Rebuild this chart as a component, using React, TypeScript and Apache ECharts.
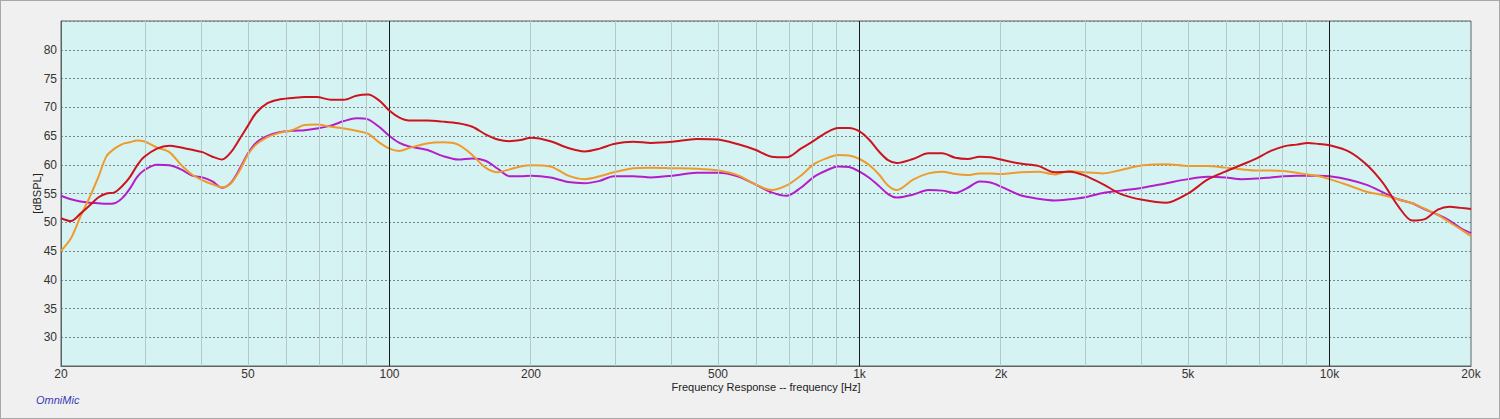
import React, { useEffect, useRef } from "react";
import * as echarts from "echarts";

const freqs = [
  20, 21, 22, 23, 24, 25, 26, 27, 28, 29, 30, 32, 34, 36, 38, 40, 42, 44, 46, 48,
  50, 52, 55, 58, 62, 66, 70, 75, 80, 85, 90, 95, 100, 105, 110, 120, 130, 140, 150, 160,
  170, 180, 190, 200, 220, 240, 260, 280, 300, 330, 360, 400, 450, 500, 550, 600, 650, 700, 750, 800,
  850, 900, 950, 1000, 1050, 1100, 1150, 1200, 1300, 1400, 1500, 1600, 1700, 1800, 1900, 2000, 2200, 2400, 2600, 2800,
  3000, 3300, 3600, 4000, 4500, 5000, 5500, 6000, 6500, 7000, 7500, 8000, 8500, 9000, 9500, 10000, 11000, 12000, 13000, 14000,
  15000, 16000, 17000, 18000, 19000, 20000,
];

const redValues = [
  50.7, 50.2, 51.5, 52.9, 54.3, 55.0, 55.2, 56.3, 57.8, 59.8, 61.3, 62.8, 63.3, 63.0, 62.6, 62.2, 61.4, 60.9, 62.2, 64.5,
  66.8, 69.0, 70.7, 71.3, 71.6, 71.8, 71.8, 71.3, 71.3, 72.0, 72.2, 71.2, 69.4, 68.2, 67.7, 67.7, 67.5, 67.2, 66.6, 65.3,
  64.4, 64.1, 64.3, 64.7, 64.1, 62.9, 62.3, 62.8, 63.6, 64.0, 63.8, 64.0, 64.5, 64.4, 63.6, 62.6, 61.4, 61.3, 62.8, 64.2,
  65.6, 66.4, 66.4, 65.8, 64.3, 62.3, 60.8, 60.3, 61.0, 62.0, 62.0, 61.2, 61.0, 61.4, 61.3, 60.9, 60.2, 59.8, 58.7, 58.8,
  58.2, 56.6, 54.9, 53.9, 53.4, 55.0, 57.4, 58.8, 60.0, 61.1, 62.4, 63.2, 63.5, 63.8, 63.6, 63.4, 62.3, 60.0, 56.8, 52.8,
  50.3, 50.6, 52.2, 52.7, 52.5, 52.3,
];

const purpleValues = [
  54.6, 54.0, 53.6, 53.4, 53.3, 53.2, 53.3, 54.2, 55.8, 57.8, 59.0, 60.0, 59.9, 59.2, 58.1, 57.8, 57.1, 56.0, 56.9, 59.3,
  62.0, 63.8, 65.0, 65.6, 65.9, 66.0, 66.3, 66.8, 67.6, 68.1, 67.9, 66.6, 65.0, 63.8, 63.2, 62.6, 61.5, 60.9, 61.1, 60.7,
  59.3, 58.0, 58.0, 58.1, 57.8, 57.0, 56.8, 57.2, 58.0, 58.0, 57.8, 58.1, 58.6, 58.6, 58.0, 56.6, 55.2, 54.6, 56.0, 57.9,
  59.0, 59.7, 59.6, 58.8, 57.7, 56.3, 54.9, 54.3, 54.8, 55.6, 55.5, 55.1, 56.0, 57.1, 56.9, 56.2, 54.7, 54.1, 53.8, 54.0,
  54.3, 55.1, 55.5, 56.0, 56.8, 57.5, 57.9, 57.8, 57.5, 57.6, 57.8, 58.0, 58.1, 58.1, 58.1, 58.0, 57.4, 56.5, 55.2, 54.0,
  53.3, 52.2, 51.3, 50.3, 49.0, 48.1,
];

const orangeValues = [
  45.0, 47.2, 51.0, 54.3, 57.8, 61.5, 62.8, 63.6, 63.9, 64.2, 64.1, 63.0, 62.2, 60.0, 58.3, 57.3, 56.6, 56.1, 56.8, 59.0,
  61.8, 63.5, 64.8, 65.5, 66.0, 66.9, 67.0, 66.6, 66.3, 65.9, 65.4, 63.9, 62.8, 62.4, 62.9, 63.7, 63.9, 63.5, 61.7, 59.5,
  58.7, 59.2, 59.7, 59.9, 59.7, 58.1, 57.5, 58.0, 58.7, 59.4, 59.5, 59.4, 59.3, 59.0, 58.2, 56.6, 55.6, 56.4, 58.1, 60.1,
  61.1, 61.7, 61.6, 61.0, 59.9, 58.3, 56.4, 55.6, 57.4, 58.5, 58.8, 58.4, 58.2, 58.5, 58.5, 58.4, 58.7, 58.8, 58.3, 58.9,
  58.7, 58.5, 59.1, 59.9, 60.1, 59.8, 59.8, 59.5, 59.2, 59.0, 59.0, 58.9, 58.6, 58.3, 58.0, 57.5, 56.4, 55.3, 54.7, 54.0,
  53.3, 52.3, 51.3, 50.0, 48.8, 47.6,
];

const xTickLabels = [20, 50, 100, 200, 500, 1000, 2000, 5000, 10000, 20000];
const minorGridFreqs = [
  30, 40, 50, 60, 70, 80, 90,
  200, 300, 400, 500, 600, 700, 800, 900,
  2000, 3000, 4000, 5000, 6000, 7000, 8000, 9000,
];
const majorGridFreqs = [100, 1000, 10000];

const FONT = "'Liberation Sans', Arial, sans-serif";

function fmtFreq(v: number): string {
  const f = Math.round(Math.pow(10, v));
  if (f >= 1000) return f / 1000 + "k";
  return String(f);
}

export default function App() {
  const ref = useRef<HTMLDivElement>(null);
  useEffect(() => {
    if (!ref.current) return;
    const chart = echarts.init(ref.current, undefined, { renderer: "svg" });
    const toData = (vals: number[]) => freqs.map((f, i) => [Math.log10(f), vals[i]]);
    const lineSeries = (name: string, vals: number[], color: string, z: number) => ({
      name,
      type: "line",
      data: toData(vals),
      smooth: 0.3,
      showSymbol: false,
      symbol: "none",
      z,
      lineStyle: { color, width: 2 },
      itemStyle: { color },
    });
    chart.setOption({
      animation: false,
      backgroundColor: "#f0f0f0",
      textStyle: { fontFamily: FONT },
      grid: {
        left: 60,
        top: 20,
        right: 28,
        bottom: 52,
        show: true,
        backgroundColor: "#d5f3f3",
        borderColor: "#5a6464",
        borderWidth: 1,
      },
      xAxis: {
        type: "value",
        min: Math.log10(20),
        max: Math.log10(20000),
        name: "Frequency Response -- frequency [Hz]",
        nameLocation: "middle",
        nameGap: 15,
        nameMoveOverlap: false,
        nameTextStyle: { fontSize: 11, color: "#222", fontFamily: FONT, lineHeight: 12 },
        axisLine: { show: true, lineStyle: { color: "#5a6464", width: 1 } },
        axisTick: { show: false },
        splitLine: { show: false },
        axisLabel: {
          customValues: xTickLabels.map((f) => Math.log10(f)),
          formatter: (v: number) => fmtFreq(v),
          fontSize: 12,
          lineHeight: 12,
          color: "#333",
          margin: 2,
          fontFamily: FONT,
        },
      },
      yAxis: {
        type: "value",
        min: 25,
        max: 85,
        interval: 5,
        name: "[dBSPL]",
        nameLocation: "middle",
        nameGap: 19,
        nameMoveOverlap: false,
        nameTextStyle: { fontSize: 11, color: "#222", fontFamily: FONT },
        axisLine: { show: true, lineStyle: { color: "#5a6464", width: 1 } },
        axisTick: { show: false },
        axisLabel: {
          formatter: (v: number) => (v === 25 || v === 85 ? "" : String(v)),
          fontSize: 12,
          color: "#333",
          margin: 4,
          fontFamily: FONT,
        },
        splitLine: {
          show: true,
          lineStyle: { color: "#778787", type: [2, 2], width: 1 },
        },
      },
      series: [
        {
          name: "grid",
          type: "line",
          data: [],
          z: 1,
          silent: true,
          markLine: {
            silent: true,
            symbol: "none",
            label: { show: false },
            animation: false,
            data: [
              ...minorGridFreqs.map((f) => ({
                xAxis: Math.log10(f),
                lineStyle: { color: "#b4c8c8", width: 1, type: "solid" },
              })),
              ...majorGridFreqs.map((f) => ({
                xAxis: Math.log10(f),
                lineStyle: { color: "#1a1a1a", width: 1, type: "solid" },
              })),
            ],
          },
        },
        lineSeries("purple", purpleValues, "#b41ec8", 3),
        lineSeries("orange", orangeValues, "#ef9b2c", 4),
        lineSeries("red", redValues, "#cc1420", 5),
      ],
      graphic: [
        {
          type: "text",
          left: 35,
          top: 393,
          style: {
            text: "OmniMic",
            fill: "#3a3ab8",
            font: "italic 11px 'Liberation Sans', Arial, sans-serif",
          },
        },
      ],
    });
    return () => chart.dispose();
  }, []);
  return (
    <div
      style={{
        position: "fixed",
        left: 0,
        top: 0,
        width: 1500,
        height: 419,
        boxSizing: "border-box",
        border: "1px solid #a8a8a8",
        background: "#f0f0f0",
      }}
    >
      <div ref={ref} style={{ position: "absolute", left: 0, top: 0, width: 1498, height: 417 }} />
    </div>
  );
}
